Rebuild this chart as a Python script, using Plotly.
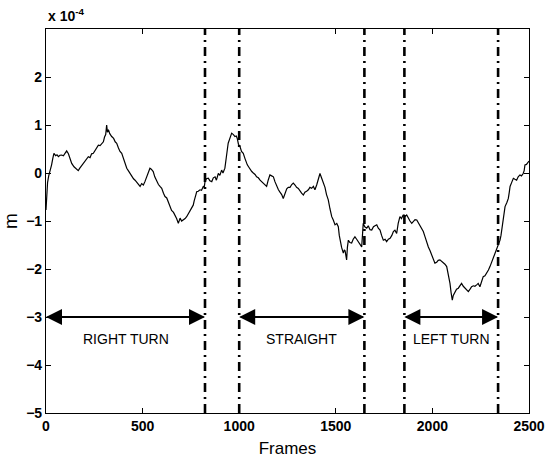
import plotly.graph_objects as go

# Data (m in units of 1e-4)
frames = [0,4,8,14,20,29,35,41,50,57,64,72,81,90,100,107,116,124,133,145,155,167,175,185,193,202,210,219,228,236,245,255,263,271,280,290,297,303,309,314,318,323,330,340,350,358,366,375,383,392,400,410,418,426,435,445,453,461,470,478,487,495,504,512,521,530,535,538,545,555,563,573,582,590,599,608,616,625,633,642,650,660,668,676,685,690,694,702,711,720,728,736,745,754,762,767,771,776,780,788,797,805,814,819,823,830,840,848,858,866,875,882,892,900,909,916,926,930,935,939,943,950,955,961,970,978,985,990,996,1004,1012,1021,1030,1036,1042,1050,1058,1065,1073,1082,1090,1099,1108,1116,1125,1134,1142,1150,1159,1168,1177,1185,1194,1203,1211,1220,1228,1237,1246,1254,1263,1272,1280,1289,1297,1306,1315,1323,1332,1340,1349,1358,1366,1375,1384,1392,1401,1410,1418,1426,1435,1444,1452,1461,1470,1479,1487,1496,1505,1513,1518,1522,1530,1539,1544,1548,1552,1556,1560,1565,1573,1582,1590,1599,1608,1617,1625,1634,1638,1642,1650,1660,1668,1677,1686,1695,1703,1712,1720,1729,1737,1746,1755,1763,1772,1781,1790,1798,1806,1815,1823,1832,1840,1848,1853,1860,1867,1875,1884,1893,1902,1910,1919,1928,1936,1945,1953,1962,1970,1979,1988,1996,2005,2013,2022,2030,2039,2048,2057,2065,2074,2082,2091,2097,2103,2108,2117,2125,2134,2142,2151,2160,2169,2177,2186,2195,2203,2212,2220,2229,2237,2246,2255,2263,2272,2281,2290,2298,2307,2315,2324,2333,2341,2350,2355,2359,2367,2376,2385,2393,2398,2402,2410,2419,2427,2436,2444,2453,2461,2470,2475,2479,2487,2496,2500]
m_e4 = [-0.77,-0.45,-0.2,-0.06,0.02,0.17,0.3,0.41,0.36,0.38,0.34,0.37,0.375,0.36,0.42,0.46,0.40,0.3,0.2,0.13,0.1,0.05,0.1,0.15,0.2,0.25,0.3,0.34,0.32,0.4,0.41,0.48,0.52,0.58,0.57,0.63,0.65,0.75,0.8,1.0,0.85,0.9,0.82,0.76,0.72,0.65,0.62,0.52,0.45,0.41,0.3,0.2,0.1,0.05,-0.01,-0.08,-0.12,-0.15,-0.2,-0.22,-0.28,-0.22,-0.25,-0.18,-0.08,0.02,0.1,0.1,0.08,0.03,-0.08,-0.18,-0.24,-0.28,-0.32,-0.42,-0.49,-0.52,-0.6,-0.7,-0.78,-0.82,-0.88,-0.95,-1.05,-0.98,-0.94,-1.0,-0.98,-0.95,-0.91,-0.85,-0.77,-0.72,-0.67,-0.58,-0.49,-0.45,-0.39,-0.38,-0.35,-0.36,-0.28,-0.3,-0.18,-0.12,-0.11,-0.16,-0.18,-0.1,-0.08,-0.15,-0.01,-0.05,0.06,0.0,0.1,0.2,0.34,0.5,0.62,0.7,0.8,0.83,0.8,0.76,0.77,0.72,0.6,0.55,0.45,0.41,0.3,0.22,0.17,0.12,0.06,0.03,0.0,-0.03,-0.08,-0.1,-0.15,-0.18,-0.2,-0.25,-0.28,-0.15,-0.04,-0.06,-0.08,-0.18,-0.28,-0.35,-0.4,-0.45,-0.53,-0.42,-0.33,-0.3,-0.3,-0.24,-0.21,-0.25,-0.3,-0.32,-0.38,-0.42,-0.46,-0.4,-0.38,-0.35,-0.3,-0.32,-0.28,-0.35,-0.25,-0.11,-0.01,-0.1,-0.21,-0.3,-0.45,-0.56,-0.75,-0.91,-0.98,-1.08,-1.05,-1.12,-1.3,-1.4,-1.55,-1.67,-1.6,-1.62,-1.7,-1.81,-1.55,-1.4,-1.45,-1.46,-1.38,-1.33,-1.38,-1.43,-1.48,-1.54,-1.3,-1.05,-1.12,-1.15,-1.1,-1.18,-1.19,-1.12,-1.1,-1.08,-1.15,-1.19,-1.3,-1.4,-1.38,-1.43,-1.38,-1.36,-1.3,-1.22,-1.19,-1.26,-1.05,-0.91,-0.95,-0.88,-0.875,-0.9,-0.875,-0.94,-1.0,-1.05,-1.0,-0.97,-0.98,-1.05,-1.1,-1.15,-1.22,-1.33,-1.45,-1.54,-1.62,-1.71,-1.8,-1.88,-1.86,-1.82,-1.81,-1.84,-1.88,-1.9,-1.95,-2.1,-2.3,-2.5,-2.65,-2.55,-2.47,-2.42,-2.4,-2.35,-2.3,-2.36,-2.4,-2.44,-2.47,-2.42,-2.37,-2.35,-2.36,-2.33,-2.3,-2.37,-2.25,-2.16,-2.14,-2.09,-2.02,-1.95,-1.85,-1.78,-1.7,-1.6,-1.5,-1.4,-1.3,-1.19,-0.95,-0.7,-0.62,-0.53,-0.4,-0.28,-0.2,-0.11,-0.13,-0.15,-0.08,-0.04,-0.06,-0.01,0.05,0.17,0.18,0.23,0.25]

boundaries = [823, 1000, 1648, 1855, 2340]
segments = [(0, 823, "RIGHT TURN"), (1000, 1648, "STRAIGHT"), (1855, 2340, "LEFT TURN")]
arrow_level = -3
label_level = -3.45
x_ticks = [0, 500, 1000, 1500, 2000, 2500]
y_ticks = [-5, -4, -3, -2, -1, 0, 1, 2]

FONT = "Liberation Sans, Arial, sans-serif"

fig = go.Figure()
fig.add_trace(go.Scatter(x=frames, y=m_e4, mode="lines",
                         line=dict(color="black", width=1.2), showlegend=False))

for b in boundaries:
    fig.add_shape(type="line", xref="x", yref="y", x0=b, x1=b, y0=-5, y1=3,
                  line=dict(color="black", width=2.6, dash="9px,5px,2px,5px"))

for x0, x1, label in segments:
    for head, tail in ((x1, x0), (x0, x1)):
        fig.add_annotation(x=head, y=arrow_level, ax=tail, ay=arrow_level,
                           xref="x", yref="y", axref="x", ayref="y",
                           text="", showarrow=True, arrowhead=2, arrowsize=1.6,
                           arrowwidth=2, arrowcolor="black")
    fig.add_annotation(x=(x0 + x1) / 2, y=label_level, xref="x", yref="y",
                       text=label, showarrow=False,
                       font=dict(family=FONT, size=14, color="black"))

fig.add_annotation(xref="paper", yref="paper", x=0, y=1, xanchor="left", yanchor="bottom",
                   yshift=3, text="x 10<sup>-4</sup>", showarrow=False,
                   font=dict(family=FONT, size=14, color="black", weight="bold"))

axis_common = dict(showgrid=False, zeroline=False, showline=True, linecolor="black",
                   linewidth=1.2, mirror="ticks", ticks="inside", ticklen=5,
                   tickcolor="black", tickwidth=1, automargin=False,
                   tickfont=dict(family=FONT, size=14, color="black", weight="bold"))

fig.update_xaxes(range=[0, 2500], tickvals=x_ticks,
                 title=dict(text="Frames", font=dict(family=FONT, size=17, color="black"), standoff=9),
                 **axis_common)
fig.update_yaxes(range=[-5, 3], tickvals=y_ticks,
                 title=dict(text="m", font=dict(family=FONT, size=19, color="black"), standoff=6),
                 **axis_common)

fig.update_layout(width=548, height=463, paper_bgcolor="white", plot_bgcolor="white",
                  margin=dict(l=46, r=19, t=29, b=50), showlegend=False)

fig.write_html("out.html", config={"displayModeBar": False},
               post_script="document.body.style.margin='0';document.body.style.overflow='hidden';")
